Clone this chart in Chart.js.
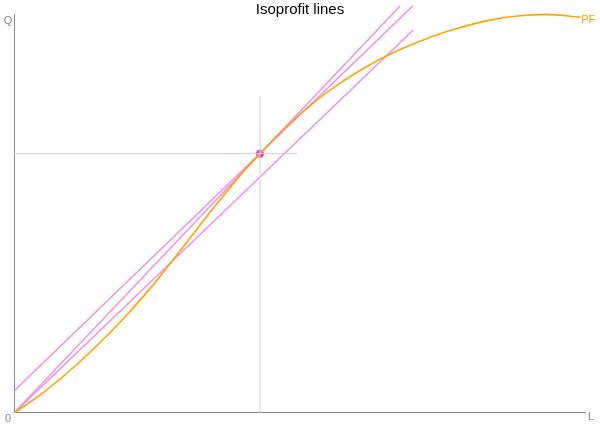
<!DOCTYPE html>
<html>
<head>
<meta charset="utf-8">
<title>Isoprofit lines</title>
<script src="https://cdn.jsdelivr.net/npm/chart.js@4"></script>
<style>
  html, body { margin: 0; padding: 0; background: #fff; }
  #wrap { width: 600px; height: 429px; }
</style>
</head>
<body>
<div id="wrap"><canvas id="chart" width="600" height="429"></canvas></div>
<script>
// production function PF
const pfL = [0, 5, 10, 15, 20, 25, 30, 35, 40, 43, 48, 53, 58, 63, 68, 73, 78, 83, 88, 93, 99];
const pfQ = [0, 5.0, 10.9, 17.6, 25.0, 33.3, 42.4, 51.6, 60.3, 65.0, 72.3, 78.5, 83.6, 87.9, 91.4, 94.3, 96.6, 98.4, 99.5, 99.9, 99.2];

// isoprofit lines (start and end)
const isoAL = [0, 69.7];
const isoAQ = [5.5, 102];
const rayL = [0, 67.5];
const rayQ = [0, 102];
const isoCL = [0, 69.8];
const isoCQ = [0, 96];

// chosen point and guide lines
const optL = 43.0;
const optQ = 65.0;
const guideLEnd = 49.5;
const guideQEnd = 79.5;

const axisMax = 100;

function pts(xs, ys) {
  return xs.map((x, i) => ({ x: x, y: ys[i] }));
}

const violet = "rgba(238,130,238,0.9)";

const labels = {
  id: "labels",
  afterDraw(chart) {
    const c = chart.ctx;
    const x = chart.scales.x;
    const y = chart.scales.y;
    c.save();
    c.font = "15px 'Liberation Sans', Arial, sans-serif";
    c.fillStyle = "#000";
    c.textAlign = "center";
    c.textBaseline = "middle";
    c.fillText("Isoprofit lines", 300, 10);

    c.font = "11px 'Liberation Sans', Arial, sans-serif";
    c.fillStyle = "#888";
    c.fillText("Q", x.getPixelForValue(0) - 6, y.getPixelForValue(axisMax) + 7);
    c.fillText("0", x.getPixelForValue(0) - 6, y.getPixelForValue(0) + 6);
    c.fillText("L", x.getPixelForValue(axisMax) + 5, y.getPixelForValue(0) + 4);

    c.fillStyle = "orange";
    const n = pfL.length - 1;
    c.fillText("PF", x.getPixelForValue(pfL[n]) + 8, y.getPixelForValue(pfQ[n]) + 3);
    c.restore();
  }
};

new Chart(document.getElementById("chart"), {
  type: "scatter",
  data: {
    datasets: [
      { data: pts([0, guideLEnd], [optQ, optQ]), showLine: true, borderColor: "#d0d0d0", borderWidth: 1, pointRadius: 0 },
      { data: pts([optL, optL], [0, guideQEnd]), showLine: true, borderColor: "#d0d0d0", borderWidth: 1, pointRadius: 0 },
      { data: pts(pfL, pfQ), showLine: true, borderColor: "orange", borderWidth: 1.6, pointRadius: 0, cubicInterpolationMode: "monotone" },
      { data: pts(isoAL, isoAQ), showLine: true, borderColor: violet, borderWidth: 1.5, pointRadius: 0 },
      { data: pts(rayL, rayQ), showLine: true, borderColor: violet, borderWidth: 1.5, pointRadius: 0 },
      { data: pts(isoCL, isoCQ), showLine: true, borderColor: violet, borderWidth: 1.5, pointRadius: 0 },
      { data: [{ x: optL, y: optQ }], pointRadius: 4, pointBackgroundColor: "#e53be0", pointBorderWidth: 0 },
      // axes
      { data: pts([0, 0], [0, axisMax]), showLine: true, borderColor: "#888", borderWidth: 2, pointRadius: 0 },
      { data: pts([0, axisMax], [0, 0]), showLine: true, borderColor: "#888", borderWidth: 2, pointRadius: 0 }
    ]
  },
  options: {
    responsive: false,
    animation: false,
    layout: { padding: { left: 14, right: 14, top: 3, bottom: 16 } },
    plugins: { legend: { display: false }, tooltip: { enabled: false }, title: { display: false } },
    scales: {
      x: { type: "linear", min: 0, max: axisMax, display: false },
      y: { type: "linear", min: 0, max: 102.5, display: false }
    }
  },
  plugins: [labels]
});
</script>
</body>
</html>
